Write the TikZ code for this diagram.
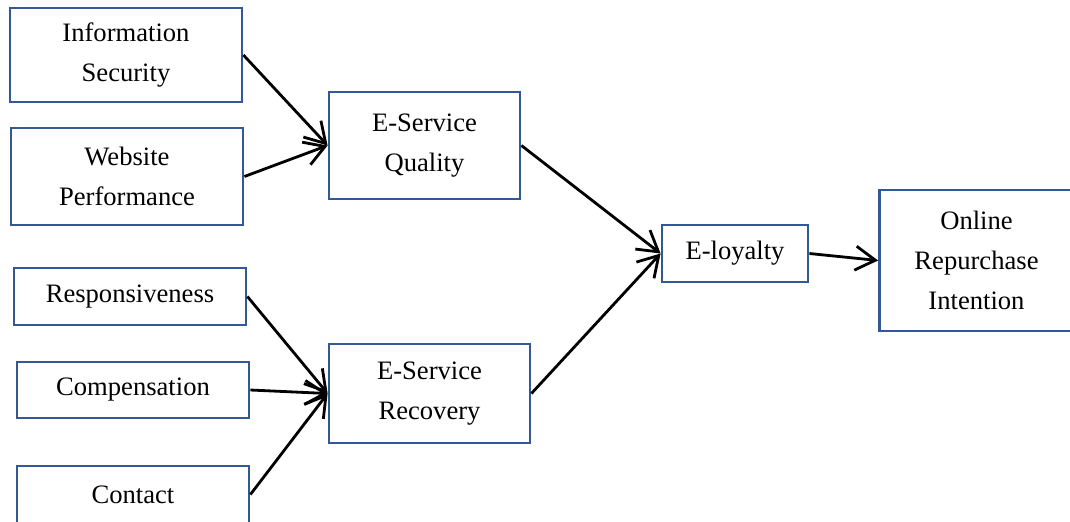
\documentclass[tikz,border=0pt]{standalone}
\usepackage{fontspec}
\setmainfont{Liberation Serif}
\usetikzlibrary{arrows.meta}
\definecolor{boxblue}{RGB}{52,88,150}

\tikzset{box/.style={draw=boxblue,line width=1.4pt,align=center,inner sep=0pt,
		font=\fontsize{13.3}{20}\selectfont},
	link/.style={-{Straight Barb[length=10pt,width=12pt]},line width=1.4pt}}

\begin{document}
\begin{tikzpicture}[x=0.5pt,y=-0.5pt]
	\useasboundingbox (0,0) rectangle (1070,521);

	\node[box,minimum width=116pt,minimum height=47pt](infosec) at (126,55) {Information\\Security};
	\node[box,minimum width=116pt,minimum height=48.5pt](webperf) at (127,176.5) {Website\\Performance};
	\node[box,minimum width=116pt,minimum height=28.5pt](resp) at (130,296.5) {Responsiveness};
	\node[box,minimum width=116pt,minimum height=28pt](comp) at (133,390) {Compensation};
	\node[box,minimum width=116pt,minimum height=28.5pt](contact) at (133,494.5) {Contact};

	\node[box,minimum width=95.5pt,minimum height=53.5pt](esq) at (424.5,145.5) {E-Service\\Quality};
	\node[box,minimum width=100.5pt,minimum height=49.5pt](esr) at (429.5,393.5) {E-Service\\Recovery};
	\node[box,minimum width=73pt,minimum height=28.5pt](eloy) at (735,253.5) {E-loyalty};
	\node[box,minimum width=97pt,minimum height=70.5pt](ori) at (976.5,260.5) {Online\\Repurchase\\Intention};

	\draw[link](infosec.east) -- (esq.west);
	\draw[link](webperf.east) -- (esq.west);
	\draw[link](resp.east) -- (esr.west);
	\draw[link](comp.east) -- (esr.west);
	\draw[link](contact.east) -- (esr.west);

	\draw[link](esq.east) -- (eloy.west);
	\draw[link](esr.east) -- (eloy.west);
	\draw[link](eloy.east) -- (ori.west);
\end{tikzpicture}
\end{document}
